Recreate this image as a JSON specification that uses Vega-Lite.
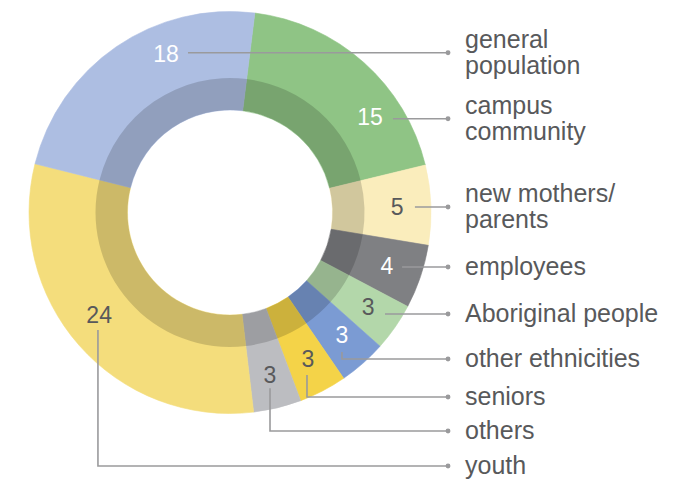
{
  "$schema": "https://vega.github.io/schema/vega-lite/v6.json",
  "width": 675,
  "height": 481,
  "autosize": {"type": "fit", "contains": "padding"},
  "padding": 0,
  "background": "white",
  "config": {"view": {"stroke": null}, "font": "Liberation Sans"},
  "datasets": {
    "seg": [
      {"cat": "campus community", "value": 15, "k": 1},
      {"cat": "new mothers/parents", "value": 5, "k": 2},
      {"cat": "employees", "value": 4, "k": 3},
      {"cat": "Aboriginal people", "value": 3, "k": 4},
      {"cat": "other ethnicities", "value": 3, "k": 5},
      {"cat": "seniors", "value": 3, "k": 6},
      {"cat": "others", "value": 3, "k": 7},
      {"cat": "youth", "value": 24, "k": 8},
      {"cat": "general population", "value": 18, "k": 9}
    ],
    "lines": [
      {"cat": "general population", "x": -0.209, "y": 0.795, "k": 1},
      {"cat": "general population", "x": 1.0846, "y": 0.795, "k": 2},
      {"cat": "campus community", "x": 0.811, "y": 0.4667, "k": 1},
      {"cat": "campus community", "x": 1.0846, "y": 0.4667, "k": 2},
      {"cat": "new mothers/parents", "x": 0.92, "y": 0.0274, "k": 1},
      {"cat": "new mothers/parents", "x": 1.0846, "y": 0.0274, "k": 2},
      {"cat": "employees", "x": 0.856, "y": -0.271, "k": 1},
      {"cat": "employees", "x": 1.0846, "y": -0.271, "k": 2},
      {"cat": "Aboriginal people", "x": 0.771, "y": -0.505, "k": 1},
      {"cat": "Aboriginal people", "x": 1.0846, "y": -0.505, "k": 2},
      {"cat": "other ethnicities", "x": 0.557, "y": -0.694, "k": 1},
      {"cat": "other ethnicities", "x": 0.557, "y": -0.729, "k": 2},
      {"cat": "other ethnicities", "x": 1.0846, "y": -0.729, "k": 3},
      {"cat": "seniors", "x": 0.383, "y": -0.808, "k": 1},
      {"cat": "seniors", "x": 0.383, "y": -0.918, "k": 2},
      {"cat": "seniors", "x": 1.0846, "y": -0.918, "k": 3},
      {"cat": "others", "x": 0.199, "y": -0.874, "k": 1},
      {"cat": "others", "x": 0.199, "y": -1.087, "k": 2},
      {"cat": "others", "x": 1.0846, "y": -1.087, "k": 3},
      {"cat": "youth", "x": -0.657, "y": -0.585, "k": 1},
      {"cat": "youth", "x": -0.657, "y": -1.261, "k": 2},
      {"cat": "youth", "x": 1.0846, "y": -1.261, "k": 3}
    ],
    "labels": [
      {"label": "general\npopulation", "y": 0.795},
      {"label": "campus\ncommunity", "y": 0.4667},
      {"label": "new mothers/\nparents", "y": 0.0274},
      {"label": "employees", "y": -0.271},
      {"label": "Aboriginal people", "y": -0.505},
      {"label": "other ethnicities", "y": -0.729},
      {"label": "seniors", "y": -0.918},
      {"label": "others", "y": -1.087},
      {"label": "youth", "y": -1.261}
    ],
    "nums": [
      {"n": "18", "cat": "general population", "x": -0.318, "y": 0.784},
      {"n": "15", "cat": "campus community", "x": 0.697, "y": 0.47},
      {"n": "5", "cat": "new mothers/parents", "x": 0.831, "y": 0.022},
      {"n": "4", "cat": "employees", "x": 0.781, "y": -0.271},
      {"n": "3", "cat": "Aboriginal people", "x": 0.687, "y": -0.475},
      {"n": "3", "cat": "other ethnicities", "x": 0.557, "y": -0.614},
      {"n": "3", "cat": "seniors", "x": 0.388, "y": -0.734},
      {"n": "3", "cat": "others", "x": 0.199, "y": -0.813},
      {"n": "24", "cat": "youth", "x": -0.651, "y": -0.515}
    ]
  },
  "layer": [
    {
      "data": {"name": "seg"},
      "mark": {"type": "arc", "innerRadius": 102.5, "outerRadius": 201, "strokeWidth": 0.6},
      "encoding": {
        "x": {"datum": 0, "type": "quantitative", "scale": {"domain": [-1.1443, 2.2139], "nice": false, "zero": false}, "axis": null},
        "y": {"datum": 0, "type": "quantitative", "scale": {"domain": [-1.3358, 1.0572], "nice": false, "zero": false}, "axis": null},
        "theta": {"field": "value", "type": "quantitative", "stack": true, "scale": {"range": [0.124, 6.4072]}},
        "order": {"field": "k", "type": "quantitative"},
        "color": {
          "field": "cat", "type": "nominal", "legend": null,
          "scale": {
            "domain": ["campus community", "new mothers/parents", "employees", "Aboriginal people", "other ethnicities", "seniors", "others", "youth", "general population"],
            "range": ["#8fc485", "#faedbc", "#7f8083", "#b3d7aa", "#7b9bd3", "#f4d348", "#bcbdc1", "#f4dd7c", "#adbee2"]
          }
        },
        "stroke": {
          "field": "cat", "type": "nominal", "legend": null,
          "scale": {
            "domain": ["campus community", "new mothers/parents", "employees", "Aboriginal people", "other ethnicities", "seniors", "others", "youth", "general population"],
            "range": ["#8fc485", "#faedbc", "#7f8083", "#b3d7aa", "#7b9bd3", "#f4d348", "#bcbdc1", "#f4dd7c", "#adbee2"]
          }
        }
      }
    },
    {
      "data": {"name": "seg"},
      "mark": {"type": "arc", "innerRadius": 102.5, "outerRadius": 134.5, "color": "black", "opacity": 0.16},
      "encoding": {
        "x": {"datum": 0, "type": "quantitative"},
        "y": {"datum": 0, "type": "quantitative"},
        "theta": {"field": "value", "type": "quantitative", "stack": true},
        "order": {"field": "k", "type": "quantitative"}
      }
    },
    {
      "data": {"name": "lines"},
      "mark": {"type": "line", "color": "#9a9a9c", "strokeWidth": 1.6},
      "encoding": {
        "x": {"field": "x", "type": "quantitative"},
        "y": {"field": "y", "type": "quantitative"},
        "detail": {"field": "cat"},
        "order": {"field": "k", "type": "quantitative"}
      }
    },
    {
      "data": {"name": "labels"},
      "mark": {"type": "point", "filled": true, "size": 24, "color": "#9a9a9c", "opacity": 1},
      "encoding": {
        "x": {"datum": 1.0846, "type": "quantitative"},
        "y": {"field": "y", "type": "quantitative"}
      }
    },
    {
      "data": {"name": "labels"},
      "transform": [{"filter": "indexof(datum.label, '\\n') < 0"}],
      "mark": {"type": "text", "align": "left", "baseline": "middle", "dx": 17, "fontSize": 25, "color": "#58595b"},
      "encoding": {
        "x": {"datum": 1.0846, "type": "quantitative"},
        "y": {"field": "y", "type": "quantitative"},
        "text": {"field": "label"}
      }
    },
    {
      "data": {"name": "labels"},
      "transform": [{"filter": "indexof(datum.label, '\\n') >= 0"}],
      "mark": {"type": "text", "align": "left", "baseline": "middle", "dx": 17, "dy": -13, "fontSize": 25, "lineBreak": "\n", "lineHeight": 26, "color": "#58595b"},
      "encoding": {
        "x": {"datum": 1.0846, "type": "quantitative"},
        "y": {"field": "y", "type": "quantitative"},
        "text": {"field": "label"}
      }
    },
    {
      "data": {"name": "nums"},
      "mark": {"type": "text", "align": "center", "baseline": "middle", "fontSize": 23},
      "encoding": {
        "x": {"field": "x", "type": "quantitative"},
        "y": {"field": "y", "type": "quantitative"},
        "text": {"field": "n"},
        "color": {
          "condition": {"test": "indexof(['general population','campus community','employees','other ethnicities'], datum.cat) >= 0", "value": "white"},
          "value": "#58595b"
        }
      }
    }
  ]
}
